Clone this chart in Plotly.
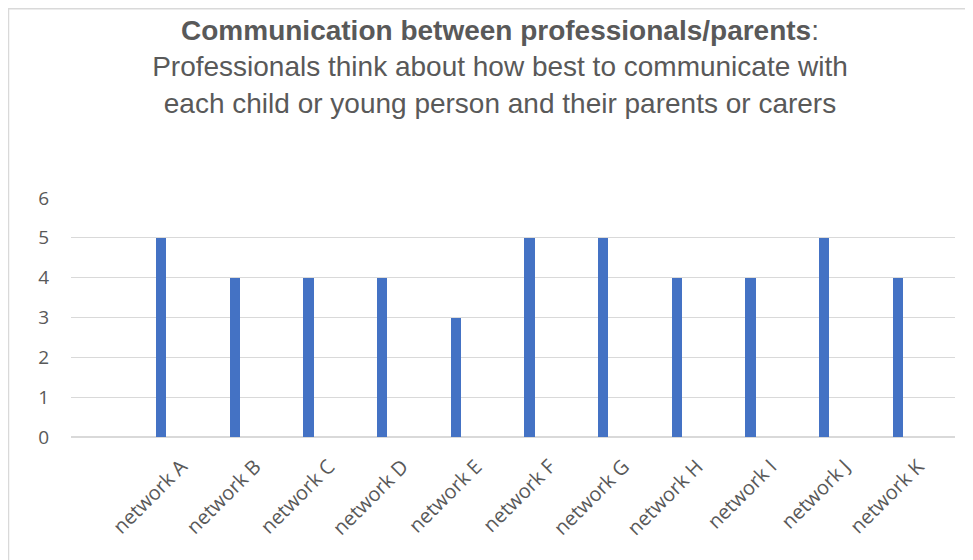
import plotly.graph_objects as go

# Data
networks = ["network A", "network B", "network C", "network D", "network E", "network F",
            "network G", "network H", "network I", "network J", "network K"]
scores = [5, 4, 4, 4, 3, 5, 5, 4, 4, 5, 4]
y_ticks = [0, 1, 2, 3, 4, 5, 6]

title_bold = "Communication between professionals/parents"
title_rest = ["Professionals think about how best to communicate with",
              "each child or young person and their parents or carers"]

GREY_TEXT = "#595959"
GRID = "#d9d9d9"

# the page puts the figure 8px in from the top-left corner,
# so everything below is measured in window pixels minus that offset
OFF = 8
W, H = 973 - OFF, 560 - OFF
L, R, T, B = 71 - OFF, 18, 198 - OFF, 123
pw, ph = W - L - R, H - T - B

fig = go.Figure()

fig.add_trace(go.Bar(
    x=networks, y=scores,
    marker=dict(color="#4472C4", line=dict(width=0)),
    width=0.143, offset=-0.347,
    hoverinfo="x+y",
))

# light outer chart border (left/top visible, right/bottom cut off)
fig.add_shape(
    type="rect", xref="paper", yref="paper",
    x0=(0.5 - L) / pw, x1=(990 - L) / pw,
    y0=(H - B - 0.75) / ph, y1=(H - B - 580) / ph,
    line=dict(color=GRID, width=1.5), fillcolor="rgba(0,0,0,0)", layer="below",
)

fig.update_layout(
    width=W, height=H,
    margin=dict(l=L, r=R, t=T, b=B),
    paper_bgcolor="white", plot_bgcolor="white",
    showlegend=False,
    title=dict(
        text=f"<b>{title_bold}</b>:<br>" + "<br>".join(title_rest),
        x=(500 - OFF) / W, xanchor="center", xref="container",
        y=1 - 32 / H, yanchor="top", yref="container",
        font=dict(family="Liberation Sans, Arial, sans-serif", size=28, color=GREY_TEXT),
    ),
    font=dict(family="Open Sans, Segoe UI, sans-serif", color=GREY_TEXT),
    bargap=0,
)

fig.update_xaxes(
    type="category", categoryorder="array", categoryarray=networks,
    range=[-1.5, len(networks) - 0.5],
    tickangle=-45, tickfont=dict(size=20, color=GREY_TEXT),
    showgrid=False, showline=False, zeroline=False,
    ticklabelstandoff=13, fixedrange=True,
)

fig.update_yaxes(
    range=[0, 6], tickvals=y_ticks,
    tickfont=dict(size=19, color=GREY_TEXT),
    showgrid=True, gridcolor=GRID, gridwidth=1.3,
    zeroline=True, zerolinecolor=GRID, zerolinewidth=1.5,
    showline=False, ticklabelstandoff=21, fixedrange=True,
)

fig.write_html("out.html")
